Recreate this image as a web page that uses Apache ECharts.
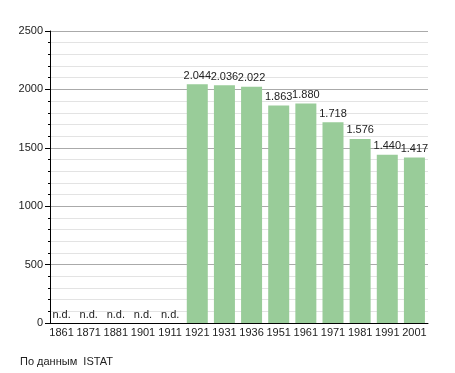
<!DOCTYPE html>
<html>
<head>
<meta charset="utf-8">
<script src="https://cdn.jsdelivr.net/npm/echarts@6/dist/echarts.min.js"></script>
<style>
html,body{margin:0;padding:0;background:#fff;}
#chart{width:455px;height:373px;}
</style>
</head>
<body>
<div id="chart"></div>
<script>
const years = ['1861','1871','1881','1901','1911','1921','1931','1936','1951','1961','1971','1981','1991','2001'];
const population = [null, null, null, null, null, 2044, 2036, 2022, 1863, 1880, 1718, 1576, 1440, 1417];
const yTicks = [0, 500, 1000, 1500, 2000, 2500];
const sourceNote = 'По данным  ISTAT';

function fmt(v) {
  if (v >= 1000) return Math.floor(v / 1000) + '.' + String(v % 1000).padStart(3, '0');
  return String(v);
}

const font = 'Liberation Sans, Arial, sans-serif';
const chart = echarts.init(document.getElementById('chart'), null, {renderer: 'canvas'});
chart.setOption({
  animation: false,
  backgroundColor: '#fff',
  grid: {left: 48, right: 27, top: 31, bottom: 50, containLabel: false},
  graphic: [{
    type: 'text', left: 20, top: 356,
    style: {text: sourceNote, font: '11px ' + font, fill: '#222'}
  }],
  xAxis: {
    type: 'category',
    data: years,
    axisLine: {lineStyle: {color: '#000', width: 1}},
    axisTick: {show: false},
    axisLabel: {color: '#222', fontSize: 11, fontFamily: font, margin: 4, interval: 0}
  },
  yAxis: {
    type: 'value',
    min: yTicks[0], max: yTicks[yTicks.length - 1], interval: 500,
    offset: -2,
    axisLine: {show: true, lineStyle: {color: '#000', width: 1}},
    axisTick: {show: true, length: 5, lineStyle: {color: '#000'}},
    minorTick: {show: true, splitNumber: 5, length: 2, lineStyle: {color: '#000'}},
    axisLabel: {color: '#222', fontSize: 11, fontFamily: font, margin: 7, formatter: v => String(v)},
    splitLine: {show: true, lineStyle: {color: '#aaaaaa', width: 1}},
    minorSplitLine: {show: true, lineStyle: {color: '#e3e3e3', width: 1}}
  },
  series: [{
    type: 'bar',
    barWidth: 21,
    itemStyle: {color: '#99cc99'},
    data: population.map(v => v === null
      ? {value: 0, label: {formatter: 'n.d.'}}
      : {value: v}),
    label: {
      show: true, position: 'top', distance: 3,
      color: '#222', fontSize: 11, fontFamily: font,
      formatter: p => fmt(p.value)
    }
  }]
});
</script>
</body>
</html>
